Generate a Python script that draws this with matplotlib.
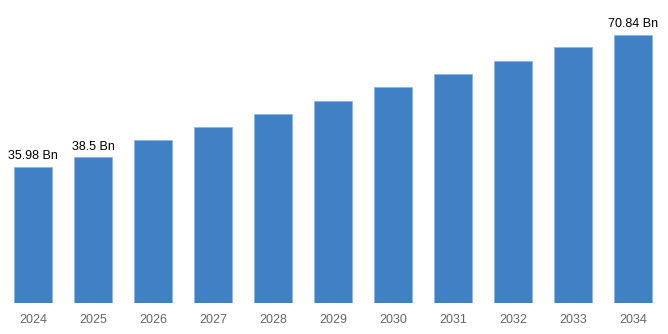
import matplotlib.pyplot as plt
import numpy as np

plt.rcParams['font.family'] = ['Liberation Sans', 'DejaVu Sans']

years = ['2024', '2025', '2026', '2027', '2028', '2029', '2030', '2031', '2032', '2033', '2034']
values = [35.98, 38.5, 43.0, 46.4, 49.9, 53.3, 57.0, 60.4, 63.9, 67.5, 70.84]
labels = {0: '35.98 Bn', 1: '38.5 Bn', 10: '70.84 Bn'}

fig = plt.figure(figsize=(6.68, 3.34), dpi=100)
ax = fig.add_axes([3 / 668, 31 / 334, 660 / 668, 284 / 334])

x = np.arange(len(years))
ax.bar(x, values, width=0.63, color='#4080c4', edgecolor='#8fb5df', linewidth=0.6)

for i, txt in labels.items():
    ax.text(x[i], values[i] + 1.2, txt, ha='center', va='bottom', fontsize=9, color='black')

ax.set_xlim(-0.5, len(years) - 0.5)
ax.set_ylim(0, 75)
ax.set_xticks(x)
ax.set_xticklabels(years, fontsize=9, color='#666666')
ax.tick_params(axis='x', length=0, pad=8)
ax.set_yticks([])
for s in ax.spines.values():
    s.set_visible(False)

fig.savefig('out.png', dpi=100)
